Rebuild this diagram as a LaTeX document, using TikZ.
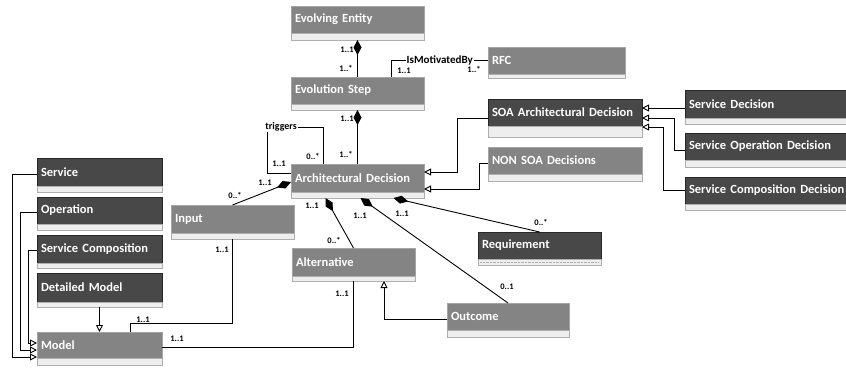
\documentclass[tikz,border=0pt]{standalone}
\usepackage{fontspec}
\newfontfamily\umlfont{Carlito}
\usetikzlibrary{positioning,arrows.meta,calc}
\definecolor{clslight}{RGB}{132,132,132}
\definecolor{clslightb}{RGB}{165,165,165}
\definecolor{clsdark}{RGB}{72,72,72}
\definecolor{clsdarkb}{RGB}{40,40,40}
\definecolor{stripb}{RGB}{175,175,175}
\definecolor{stripf}{RGB}{238,238,238}
\tikzset{
  clsbase/.style={rectangle, anchor=north west, line width=0.8pt, minimum height=27pt,
                  inner xsep=4pt, inner ysep=0pt, outer sep=0pt, text=white, align=left,
                  font=\umlfont\bfseries\fontsize{12.5}{14}\selectfont},
  lcls/.style={clsbase, draw=clslightb, fill=clslight},
  dcls/.style={clsbase, draw=clsdarkb, fill=clsdark},
  strip/.style={rectangle, draw=stripb, fill=stripf, line width=0.6pt, minimum height=6pt,
                inner sep=0pt, outer sep=0pt},
  assoc/.style={line width=0.9pt, black},
  comp/.style={assoc, -{Diamond[length=15pt, width=8pt]}},
  gen/.style={assoc, -{Triangle[open, length=7pt, width=7pt, fill=white]}},
  mult/.style={font=\umlfont\bfseries\fontsize{8.5}{9}\selectfont, inner sep=0pt},
  role/.style={font=\umlfont\bfseries\fontsize{10}{11}\selectfont, inner sep=1pt, fill=white}
}

\begin{document}
\begin{tikzpicture}[x=1pt, y=-1pt]
\useasboundingbox (0,0) rectangle (846,367);

% top: evolving entity, step, rfc
\node[lcls, text width=125pt] (ee) at (291,6) {Evolving Entity};
\node[strip, minimum width=133pt, minimum height=7pt, below=0pt of ee] (ee-s) {};
\node[lcls, text width=125pt] (es) at (291,77) {Evolution Step};
\node[strip, minimum width=133pt, below=0pt of es] (es-s) {};
\node[lcls, text width=129pt] (rfc) at (488,47) {RFC};
\node[strip, minimum width=137pt, minimum height=4pt, below=0pt of rfc] (rfc-s) {};

% decisions
\node[lcls, text width=125pt, minimum height=28pt] (ad) at (291,164) {Architectural Decision};
\node[strip, minimum width=133pt, below=0pt of ad] (ad-s) {};
\node[dcls, text width=146pt] (soa) at (488,99) {\mbox{SOA Architectural Decision}};
\node[strip, minimum width=154pt, minimum height=11pt, below=0pt of soa] (soa-s) {};
\node[lcls, text width=146pt] (nonsoa) at (488,147) {NON SOA Decisions};
\node[strip, minimum width=154pt, minimum height=7pt, below=0pt of nonsoa] (nonsoa-s) {};
\node[dcls, text width=162pt, minimum height=28pt] (sd) at (685,90) {Service Decision};
\node[strip, minimum width=170pt, below=0pt of sd] (sd-s) {};
\node[dcls, text width=162pt] (sod) at (685,133) {Service Operation Decision};
\node[strip, minimum width=170pt, minimum height=7pt, below=0pt of sod] (sod-s) {};
\node[dcls, text width=162pt] (scd) at (685,177) {\mbox{Service Composition Decision}};
\node[strip, minimum width=170pt, below=0pt of scd] (scd-s) {};

% parts of a decision
\node[lcls, text width=115pt, minimum height=28pt] (inp) at (171,205) {Input};
\node[strip, minimum width=123pt, below=0pt of inp] (inp-s) {};
\node[lcls, text width=115pt, minimum height=28pt] (alt) at (292,248) {Alternative};
\node[strip, minimum width=123pt, minimum height=5pt, below=0pt of alt] (alt-s) {};
\node[lcls, text width=114pt] (outc) at (447,303) {Outcome};
\node[strip, minimum width=122pt, minimum height=7pt, below=0pt of outc] (outc-s) {};
\node[dcls, text width=115pt] (req) at (478,232) {Requirement};
\node[strip, minimum width=123pt, below=0pt of req] (req-s) {};
\draw[densely dotted, stripb] ([xshift=2pt]req-s.west) -- ([xshift=-2pt]req-s.east);

% models
\node[dcls, text width=117pt, minimum height=28pt] (srv) at (37,158) {Service};
\node[strip, minimum width=125pt, below=0pt of srv] (srv-s) {};
\node[dcls, text width=117pt] (oper) at (37,197) {Operation};
\node[strip, minimum width=125pt, below=0pt of oper] (oper-s) {};
\node[dcls, text width=117pt, minimum height=28pt] (scomp) at (37,235) {Service Composition};
\node[strip, minimum width=125pt, minimum height=5pt, below=0pt of scomp] (scomp-s) {};
\node[dcls, text width=117pt, minimum height=29pt] (dmod) at (37,273) {Detailed Model};
\node[strip, minimum width=125pt, minimum height=5pt, below=0pt of dmod] (dmod-s) {};
\node[lcls, text width=117pt, minimum height=26pt] (model) at (37,332) {Model};
\node[strip, minimum width=125pt, minimum height=7pt, below=0pt of model] (model-s) {};

% compositions
\draw[comp] (es.north) -- (ee-s.south);
\draw[comp] (ad.north) -- (es-s.south);
\draw[comp] (inp.north) -- ([yshift=-4pt]ad.west);
\draw[comp] (alt.north) -- ([xshift=-32pt]ad-s.south);
\draw[comp] (outc.north) -- ([xshift=3pt]ad-s.south);
\draw[comp] (req.north) -- ([xshift=36pt]ad-s.south);

% associations
\draw[assoc] ([xshift=34pt]es.north) |- (rfc.west) node[role, pos=0.75, font=\umlfont\bfseries\fontsize{11}{12}\selectfont] (imb) {IsMotivatedBy};
\draw[assoc] ([yshift=5pt]ad.west) -- ++(-24pt,0pt) -- ++(0pt,46pt)
  node[role, anchor=west, xshift=-3pt] (trg) {triggers} -| ([xshift=-34pt]ad.north);
\draw[assoc] ([xshift=30.5pt]model.north) -- ++(0pt,9pt) -| (inp-s.south);
\draw[assoc] ([yshift=-2pt]model.east) -| (alt-s.south);

% generalizations
\coordinate (sdin) at ([yshift=-4pt]sd.west);
\draw[gen] (sdin) -- (sdin -| soa.east);
\draw[gen] ([yshift=-3.5pt]sod.west) -- ++(-11pt,0pt) |- ([yshift=-5.5pt]soa.east);
\draw[gen] (scd.west) -- ++(-22pt,0pt) |- ([yshift=-14.5pt]soa.east);
\draw[gen] ([yshift=-5.5pt]soa.west) -- ++(-31pt,0pt) |- ([yshift=6pt]ad.east);
\draw[gen] ([yshift=-2.5pt]nonsoa.west) -- ++(-9pt,0pt) |- ([yshift=-11pt]ad.east);
\draw[gen] ([yshift=-2.5pt]outc.west) -| ([xshift=30.5pt]alt-s.south);
\draw[gen] ([yshift=-2pt]srv.west) -- ++(-25pt,0pt) |- ([yshift=-12pt]model.west);
\draw[gen] ([yshift=-1.5pt]oper.west) -- ++(-17pt,0pt) |- ([yshift=-5pt]model.west);
\draw[gen] ([yshift=-1pt]scomp.west) -- ++(-9pt,0pt) |- ([yshift=2pt]model.west);
\draw[gen] (dmod-s.south) -- (model.north);

% multiplicities
\node[mult] (m1) at (347,50) {1..1};
\node[mult] (m2) at (346,68) {1..*};
\node[mult] (m3) at (347,119) {1..1};
\node[mult] (m4) at (346,154) {1..*};
\node[mult] (m5) at (404,71) {1..1};
\node[mult] (m6) at (474,69) {1..*};
\node[mult] (m7) at (279,164) {1..1};
\node[mult] (m8) at (313,156) {0..*};
\node[mult] (m9) at (265,183) {1..1};
\node[mult] (m10) at (235,195) {0..*};
\node[mult] (m11) at (312,206) {1..1};
\node[mult] (m12) at (334,240) {0..*};
\node[mult] (m13) at (360,216) {1..1};
\node[mult] (m14) at (507,287) {0..1};
\node[mult] (m15) at (402,214) {1..1};
\node[mult] (m16) at (541,222) {0..*};
\node[mult] (m17) at (143,320) {1..1};
\node[mult] (m18) at (222,250) {1..1};
\node[mult] (m19) at (177,339) {1..1};
\node[mult] (m20) at (342,294) {1..1};
\end{tikzpicture}
\end{document}
